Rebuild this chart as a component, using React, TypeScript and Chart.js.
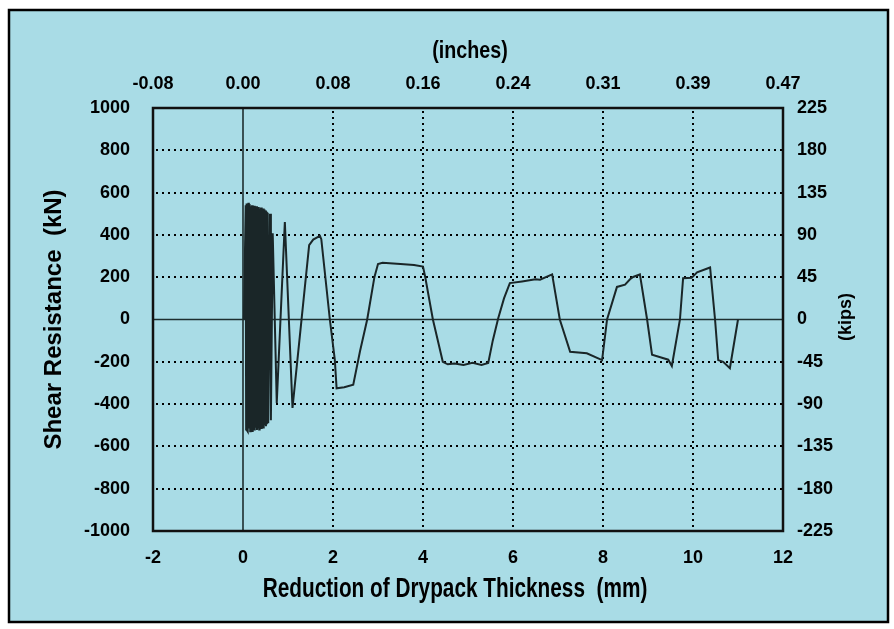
import React, { useEffect, useRef } from "react";
import { Chart, registerables } from "chart.js";

Chart.register(...registerables);

// Reduction of drypack thickness (mm)
const dispMm: number[] = [
  0.02, 0.06, 0.07, 0.08, 0.09, 0.10, 0.11, 0.12, 0.13, 0.15, 0.16, 0.17, 0.18, 0.20, 0.21, 0.22,
  0.23, 0.25, 0.26, 0.27, 0.28, 0.30, 0.31, 0.32, 0.33, 0.35, 0.36, 0.37, 0.38, 0.40, 0.41, 0.42,
  0.43, 0.45, 0.46, 0.47, 0.48, 0.50, 0.51, 0.52, 0.53, 0.55, 0.56, 0.60, 0.62, 0.66, 0.75, 0.93,
  1.10, 1.47, 1.56, 1.71, 1.74, 1.93, 2.04, 2.08, 2.25, 2.45, 2.60, 2.76, 2.92, 3.00, 3.10, 3.50,
  3.80, 4.00, 4.05, 4.22, 4.44, 4.55, 4.70, 4.90, 5.10, 5.30, 5.45, 5.55, 5.67, 5.80, 5.93, 6.20,
  6.50, 6.60, 6.87, 7.04, 7.27, 7.64, 7.98, 8.09, 8.31, 8.49, 8.60, 8.67, 8.82, 8.98, 9.09, 9.31,
  9.45, 9.53, 9.71, 9.78, 9.97, 10.09, 10.38, 10.49, 10.56, 10.67, 10.82, 11.00,
];

// Shear resistance (kN)
const shearKn: number[] = [
  0, 540, -520, 548, -525, 530, -530, 552, -515, 545, -528, 535, -520, 540, -532, 528,
  -518, 538, -525, 530, -512, 535, -522, 528, -515, 532, -520, 525, -510, 530, -518, 522,
  -505, 525, -515, 520, -500, 515, -505, 510, -495, 505, -490, 500, -476, 408, -395, 461,
  -418, 352, 378, 395, 380, 0, -190, -325, -320, -308, -150, 0, 200, 262, 268, 262,
  258, 250, 200, 0, -200, -212, -208, -215, -205, -215, -205, -100, 5, 100, 172, 180,
  190, 188, 213, 0, -153, -160, -192, 0, 154, 165, 190, 201, 213, 0, -167, -181,
  -190, -220, 0, 195, 197, 223, 246, 0, -192, -200, -230, 0,
];

const mmTicks: number[] = [-2, 0, 2, 4, 6, 8, 10, 12];
const inchLabels: string[] = ["-0.08", "0.00", "0.08", "0.16", "0.24", "0.31", "0.39", "0.47"];
const knTicks: number[] = [-1000, -800, -600, -400, -200, 0, 200, 400, 600, 800, 1000];
const kipsTicks: number[] = [-225, -180, -135, -90, -45, 0, 45, 90, 135, 180, 225];

const BG = "#a9dce6";
const LINE = "#1a2628";
const SANS = "'Liberation Sans', Arial, sans-serif";

function squeezedText(ctx: any, text: string, x: number, y: number, size: number, sx: number) {
  ctx.save();
  ctx.fillStyle = "#000";
  ctx.font = "bold " + size + "px " + SANS;
  ctx.textAlign = "center";
  ctx.textBaseline = "middle";
  ctx.translate(x, y);
  ctx.scale(sx, 1);
  ctx.fillText(text, 0, 0);
  ctx.restore();
}

const framePlugin = {
  id: "frame",
  beforeDraw(chart: any) {
    const { ctx, width, height } = chart;
    ctx.save();
    ctx.fillStyle = "#ffffff";
    ctx.fillRect(0, 0, width, height);
    ctx.fillStyle = BG;
    ctx.fillRect(9, 10, 879, 612);
    ctx.strokeStyle = "#000";
    ctx.lineWidth = 2.5;
    ctx.strokeRect(9, 10, 879, 612);
    ctx.restore();
  },
  beforeDatasetsDraw(chart: any) {
    const { ctx, chartArea: a, scales } = chart;
    const xs = scales.x;
    const ys = scales.y;
    ctx.save();
    ctx.strokeStyle = "#000";
    ctx.lineWidth = 2;
    ctx.setLineDash([2, 4]);
    mmTicks.forEach((v) => {
      if (v === 0 || v === mmTicks[0] || v === mmTicks[mmTicks.length - 1]) return;
      const px = Math.round(xs.getPixelForValue(v));
      ctx.beginPath();
      ctx.moveTo(px, a.top + 3);
      ctx.lineTo(px, a.bottom);
      ctx.stroke();
    });
    knTicks.forEach((v) => {
      if (v === 0 || v === knTicks[0] || v === knTicks[knTicks.length - 1]) return;
      const py = Math.round(ys.getPixelForValue(v));
      ctx.beginPath();
      ctx.moveTo(a.left + 3, py);
      ctx.lineTo(a.right, py);
      ctx.stroke();
    });
    ctx.setLineDash([]);
    ctx.strokeStyle = "#1e2f30";
    ctx.lineWidth = 1.6;
    const x0 = xs.getPixelForValue(0);
    const y0 = ys.getPixelForValue(0);
    ctx.beginPath();
    ctx.moveTo(x0, a.top);
    ctx.lineTo(x0, a.bottom);
    ctx.moveTo(a.left, y0);
    ctx.lineTo(a.right, y0);
    ctx.stroke();
    ctx.restore();
  },
  afterDraw(chart: any) {
    const { ctx, chartArea: a } = chart;
    ctx.save();
    ctx.strokeStyle = "#111";
    ctx.lineWidth = 2.5;
    ctx.strokeRect(a.left, a.top, a.right - a.left, a.bottom - a.top);
    ctx.fillStyle = "#000";
    ctx.font = "bold 18px " + SANS;
    ctx.textAlign = "center";
    ctx.textBaseline = "middle";
    ctx.translate(846, 317);
    ctx.rotate(-Math.PI / 2);
    ctx.fillText("(kips)", 0, 0);
    ctx.restore();
    squeezedText(ctx, "Reduction of Drypack Thickness  (mm)", 455, 590, 27, 0.77);
    squeezedText(ctx, "(inches)", 470, 51, 24, 0.82);
  },
};

export default function App() {
  const ref = useRef<HTMLCanvasElement | null>(null);

  useEffect(() => {
    const canvas = ref.current;
    if (!canvas) return;
    const tickFont = { family: SANS, size: 18, weight: "bold" as const };
    const chart = new Chart(canvas, {
      type: "line",
      data: {
        datasets: [
          {
            data: dispMm.map((x, i) => ({ x, y: shearKn[i] })),
            borderColor: LINE,
            borderWidth: 2,
            pointRadius: 0,
            tension: 0,
            fill: false,
            xAxisID: "x",
            yAxisID: "y",
          },
        ],
      },
      options: {
        responsive: false,
        animation: false,
        layout: { padding: 0 },
        plugins: { legend: { display: false }, tooltip: { enabled: false } },
        scales: {
          x: {
            type: "linear",
            position: "bottom",
            min: mmTicks[0],
            max: mmTicks[mmTicks.length - 1],
            grid: { display: false, drawTicks: false },
            border: { display: false },
            ticks: {
              stepSize: 2,
              padding: 16,
              color: "#000",
              font: tickFont,
              maxRotation: 0,
              autoSkip: false,
              callback: (v: any) => String(v),
            },
            afterFit: (s: any) => {
              s.height = 98;
            },
          },
          x2: {
            type: "linear",
            position: "top",
            min: mmTicks[0],
            max: mmTicks[mmTicks.length - 1],
            grid: { display: false, drawTicks: false },
            border: { display: false },
            ticks: {
              stepSize: 2,
              padding: 13,
              color: "#000",
              font: tickFont,
              maxRotation: 0,
              autoSkip: false,
              callback: (v: any) => inchLabels[Math.round((Number(v) - mmTicks[0]) / 2)] ?? "",
            },
            afterFit: (s: any) => {
              s.height = 108;
            },
          },
          y: {
            type: "linear",
            position: "left",
            min: knTicks[0],
            max: knTicks[knTicks.length - 1],
            grid: { display: false, drawTicks: false },
            border: { display: false },
            ticks: {
              stepSize: 200,
              padding: 23,
              color: "#000",
              font: tickFont,
              autoSkip: false,
              callback: (v: any) => String(v),
            },
            title: {
              display: true,
              text: "Shear Resistance  (kN)",
              color: "#000",
              font: { family: SANS, size: 24, weight: "bold" },
              padding: { top: 40, bottom: 0 },
            },
            afterFit: (s: any) => {
              s.width = 153;
            },
          },
          y2: {
            type: "linear",
            position: "right",
            min: kipsTicks[0],
            max: kipsTicks[kipsTicks.length - 1],
            grid: { display: false, drawTicks: false },
            border: { display: false },
            ticks: {
              stepSize: 45,
              padding: 14,
              color: "#000",
              font: tickFont,
              autoSkip: false,
              callback: (v: any) => String(v),
            },
            afterFit: (s: any) => {
              s.width = 111;
            },
          },
        },
      },
      plugins: [framePlugin],
    });
    return () => chart.destroy();
  }, []);

  return (
    <div style={{ position: "fixed", left: 0, top: 0, width: 894, height: 629 }}>
      <canvas ref={ref} width={894} height={629} style={{ display: "block", width: 894, height: 629 }} />
    </div>
  );
}
